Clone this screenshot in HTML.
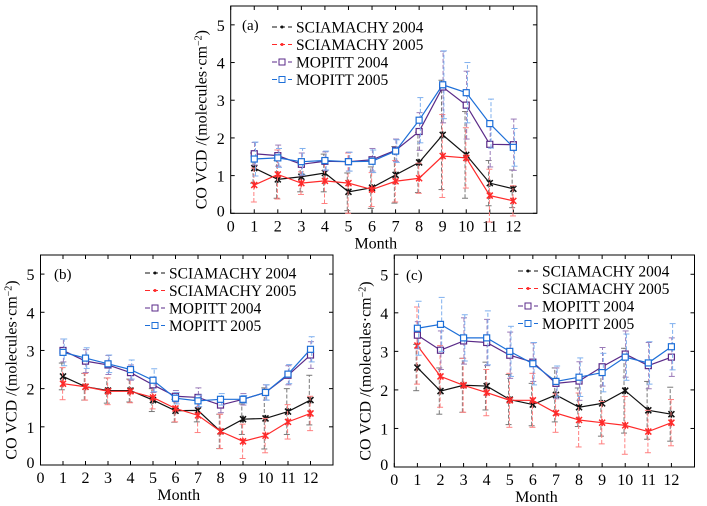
<!DOCTYPE html>
<html><head><meta charset="utf-8">
<style>
html,body{margin:0;padding:0;background:#fff;}
svg{display:block;font-family:"Liberation Serif",serif;}
</style></head>
<body>
<svg id="fig" width="707" height="506" viewBox="0 0 707 506" xmlns="http://www.w3.org/2000/svg"></svg>
<script>
// ---- data ----
const months = [1,2,3,4,5,6,7,8,9,10,11,12];
const xTicks = [0,1,2,3,4,5,6,7,8,9,10,11,12];
const yTicks = [0,1,2,3,4,5];
const seriesNames = ["SCIAMACHY 2004","SCIAMACHY 2005","MOPITT 2004","MOPITT 2005"];
// panel a
const aSci04 = [1.2,0.9,0.97,1.07,0.57,0.68,1.02,1.35,2.08,1.55,0.8,0.65];
const aSci05 = [0.75,1.03,0.8,0.86,0.8,0.63,0.85,0.93,1.52,1.47,0.47,0.33];
const aMop04 = [1.58,1.53,1.3,1.38,1.37,1.42,1.67,2.17,3.35,2.87,1.83,1.82];
const aMop05 = [1.44,1.47,1.37,1.4,1.37,1.38,1.65,2.47,3.41,3.2,2.38,1.75];
const aSci04Err = [0.4,0.5,0.4,0.5,0.5,0.55,0.75,0.8,1.45,1.15,0.6,0.5];
const aSci05Err = [0.45,0.65,0.3,0.6,0.8,0.45,0.55,0.4,1.1,0.8,0.7,0.4];
const aMop04Err = [0.3,0.28,0.3,0.25,0.25,0.3,0.3,0.5,0.95,0.9,0.6,0.68];
const aMop05Err = [0.45,0.25,0.35,0.25,0.25,0.3,0.3,0.6,0.9,0.8,0.65,0.5];
// panel b
const bSci04 = [2.32,2.05,1.95,1.95,1.7,1.42,1.43,0.88,1.2,1.22,1.4,1.7];
const bSci05 = [2.13,2.05,1.93,1.93,1.77,1.48,1.3,0.88,0.62,0.77,1.13,1.35];
const bMop04 = [3.0,2.72,2.62,2.42,2.1,1.8,1.77,1.57,1.72,1.9,2.35,2.88];
const bMop05 = [2.95,2.8,2.65,2.5,2.22,1.75,1.68,1.72,1.72,1.9,2.38,3.03];
const bSci04Err = [0.35,0.35,0.33,0.3,0.3,0.3,0.3,0.45,0.4,0.8,0.6,0.65];
const bSci05Err = [0.42,0.35,0.35,0.3,0.3,0.35,0.45,0.45,0.45,0.45,0.45,0.45];
const bMop04Err = [0.3,0.3,0.25,0.2,0.2,0.15,0.25,0.2,0.15,0.2,0.25,0.35];
const bMop05Err = [0.35,0.27,0.23,0.25,0.3,0.15,0.15,0.15,0.1,0.2,0.25,0.33];
// panel c
const cSci04 = [2.58,1.97,2.12,2.1,1.75,1.62,1.87,1.55,1.65,1.98,1.47,1.37];
const cSci05 = [3.15,2.35,2.12,1.93,1.73,1.73,1.4,1.22,1.15,1.08,0.92,1.15];
const cMop04 = [3.42,3.03,3.27,3.23,2.9,2.72,2.17,2.23,2.6,2.93,2.63,2.85];
const cMop05 = [3.6,3.7,3.35,3.35,3.0,2.68,2.22,2.33,2.45,2.85,2.7,3.12];
const cSci04Err = [0.6,0.6,0.7,0.62,0.65,0.55,0.7,0.5,0.85,1.1,0.75,0.7];
const cSci05Err = [1.0,0.8,0.7,0.6,0.7,0.7,0.5,0.7,0.55,0.75,0.55,0.6];
const cMop04Err = [0.35,0.5,0.6,0.6,0.6,0.5,0.4,0.5,0.5,0.6,0.6,0.5];
const cMop05Err = [0.7,0.7,0.6,0.7,0.65,0.55,0.4,0.5,0.5,0.6,0.55,0.6];

const NS = "http://www.w3.org/2000/svg";
const svg = document.getElementById("fig");
function mk(tag, attrs, parent){
  const e = document.createElementNS(NS, tag);
  for (const k in attrs) e.setAttribute(k, attrs[k]);
  (parent||svg).appendChild(e);
  return e;
}
const colors = ["#111111","#ff2a2a","#5a2a88","#1d6fd8"];
const errColors = ["#777777","#ff8080","#9a7ab8","#7fb0ee"];

function drawPanel(p){
  const g = mk("g",{});
  
  
  const x = v => p.x0 + (v/13)*(p.x1 - p.x0);
  const y = v => p.y0 - (v/5.5)*(p.y0 - p.y1);
  const box = mk("rect",{x:p.x0,y:p.y1,width:p.x1-p.x0,height:p.y0-p.y1,fill:"none",stroke:"#000","stroke-width":1},g);
  
  
  xTicks.forEach(t=>{
    const xx = x(t);
    mk("line",{x1:xx,x2:xx,y1:p.y0,y2:p.y0-4,stroke:"#000"},g);
    mk("line",{x1:xx,x2:xx,y1:p.y1,y2:p.y1+4,stroke:"#000"},g);
    const tl = mk("text",{x:xx,y:p.y0+18,"text-anchor":"middle","font-size":16},g);
    tl.textContent = t;
    
    
  });
  yTicks.forEach(t=>{
    const yy = y(t);
    mk("line",{x1:p.x0,x2:p.x0+4,y1:yy,y2:yy,stroke:"#000"},g);
    mk("line",{x1:p.x1,x2:p.x1-4,y1:yy,y2:yy,stroke:"#000"},g);
    const tl = mk("text",{x:p.x0-6,y:(t===0?yy+3:yy+6),"text-anchor":"end","font-size":16},g);
    tl.textContent = t;
    
    
  });
  const xt = mk("text",{x:(p.x0+p.x1)/2 - 8,y:p.y0+35,"text-anchor":"middle","font-size":16},g);
  xt.textContent = "Month";
  
  
  const cy = (p.y0+p.y1)/2 + 10;
  const tx = p.x0-24;
  const yt = mk("text",{x:tx,y:cy,"text-anchor":"middle","font-size":16,transform:`rotate(-90 ${tx} ${cy})`},g);
  yt.innerHTML = 'CO VCD /(molecules·cm<tspan dy="-5" font-size="10">−2</tspan><tspan dy="5">)</tspan>';
  
  
  const lab = mk("text",{x:p.labX,y:p.labY,"font-size":15},g);
  lab.textContent = "(" + p.id + ")";
  
  
  p.series.forEach((vals, si)=>{
    const sg = mk("g",{},g);
    
    
    const err = p.errs[si];
    months.forEach((m,i)=>{
      const xx = x(m) + (si-1.5)*0.8;
      const e = mk("line",{x1:xx,x2:xx,y1:y(vals[i]-err[i]),y2:y(vals[i]+err[i]),stroke:errColors[si],"stroke-width":1,"stroke-dasharray":"4 2"},sg);
      
      
      [vals[i]-err[i], vals[i]+err[i]].forEach(v=>{
        mk("line",{x1:xx-3,x2:xx+3,y1:y(v),y2:y(v),stroke:errColors[si]},sg);
      });
    });
    const pts = months.map((m,i)=>x(m)+","+y(vals[i])).join(" ");
    const pl = mk("polyline",{points:pts,fill:"none",stroke:colors[si],"stroke-width":1.2},sg);
    
    
    months.forEach((m,i)=>{
      const xx = x(m), yy = y(vals[i]);
      if (si<2){
        const mkr = mk("path",{d:`M${xx-3},${yy-3}L${xx+3},${yy+3}M${xx-3},${yy+3}L${xx+3},${yy-3}M${xx},${yy-3.5}L${xx},${yy+3.5}`,stroke:colors[si],"stroke-width":1.5},sg);
        
        
      } else {
        const mkr = mk("rect",{x:xx-3,y:yy-3,width:6,height:6,fill:"#fff",stroke:colors[si],"stroke-width":1.2},sg);
        
        
      }
    });
  });
  const lg = mk("g",{},g);
  
  
  seriesNames.forEach((n,si)=>{
    const ly = p.legY + si*17.5;
    const le = mk("g",{},lg);
    
    
    mk("line",{x1:p.legX,x2:p.legX+20,y1:ly,y2:ly,stroke:colors[si],"stroke-dasharray":"5 3"},le);
    const cx = p.legX+10;
    if (si<2) mk("circle",{cx:cx,cy:ly,r:1.5,fill:colors[si]},le);
    else mk("rect",{x:cx-3,y:ly-3,width:6,height:6,fill:"#fff",stroke:colors[si]},le);
    const t = mk("text",{x:p.legX+24,y:ly+5.5,"font-size":15.5},le);
    t.textContent = n;
  });
}

drawPanel({id:"a",x0:230.7,x1:536.9,y0:213.3,y1:6,labX:242,labY:30,legX:272,legY:27,
  series:[aSci04,aSci05,aMop04,aMop05],errs:[aSci04Err,aSci05Err,aMop04Err,aMop05Err]});
drawPanel({id:"b",x0:40.5,x1:333,y0:465,y1:255,labX:54,labY:279,legX:145,legY:273,
  series:[bSci04,bSci05,bMop04,bMop05],errs:[bSci04Err,bSci05Err,bMop04Err,bMop05Err]});
drawPanel({id:"c",x0:394.3,x1:694.5,y0:467,y1:255,labX:406,labY:280,legX:518,legY:271,
  series:[cSci04,cSci05,cMop04,cMop05],errs:[cSci04Err,cSci05Err,cMop04Err,cMop05Err]});
</script>
</body></html>
